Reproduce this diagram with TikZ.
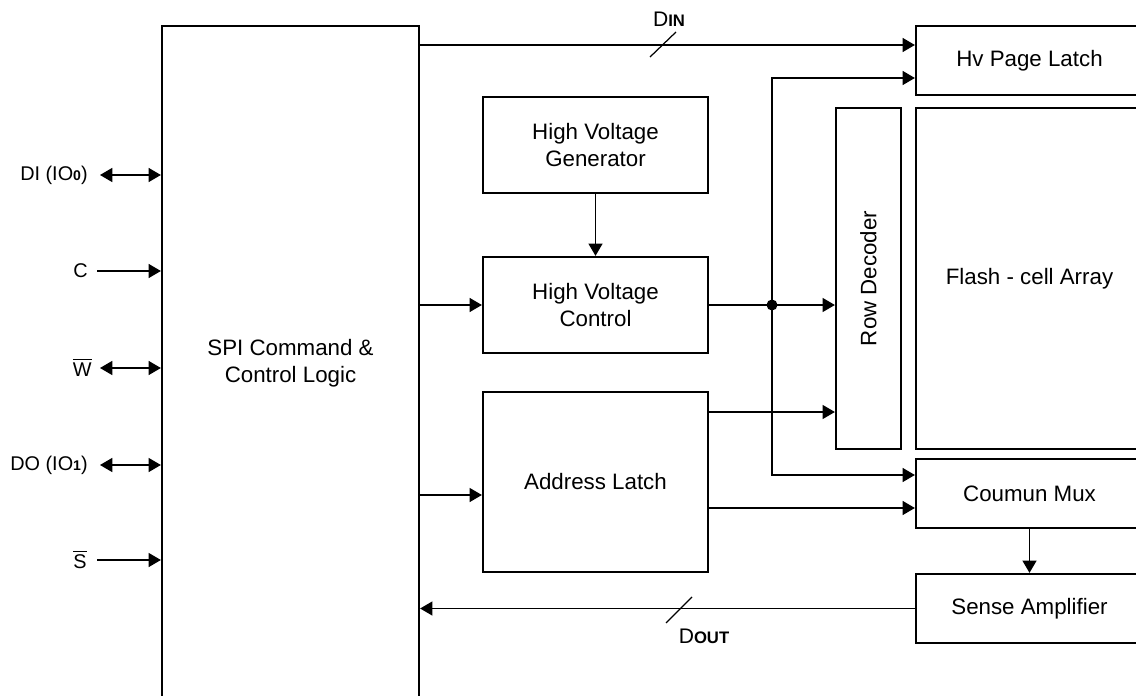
\documentclass[tikz,border=0pt]{standalone}
\usepackage{fontspec}
\setmainfont{Liberation Sans}
\usetikzlibrary{arrows.meta, positioning, calc}
\definecolor{DiagBlack}{HTML}{000000}
\definecolor{DiagWhite}{HTML}{FFFFFF}
\newcommand{\diagfont}{\fontsize{12.7}{15.4}\selectfont}
\newcommand{\smallbold}[1]{{\fontsize{9.5}{9.5}\selectfont\bfseries #1}}
\newcommand{\pinsub}[1]{{\fontsize{8}{8}\selectfont\bfseries #1}}
\newcommand{\negsig}[1]{\vbox{\hrule height 0.5pt\kern 1.5pt\hbox{#1}}}
\tikzset{
    box/.style={
        draw=DiagBlack,
        line width=1.3pt,
        fill=DiagWhite,
        text=DiagBlack,
        font=\diagfont,
        align=center,
        inner sep=2pt
    },
    arrow/.style={
        -{Triangle[length=7pt,width=8pt]},
        line width=0.7pt,
        DiagBlack
    },
    dblarrow/.style={
        {Triangle[length=7pt,width=8pt]}-{Triangle[length=7pt,width=8pt]},
        line width=0.7pt,
        DiagBlack
    },
    signal/.style={
        anchor=east,
        inner sep=0pt,
        text=DiagBlack,
        font=\fontsize{11.3}{11.3}\selectfont
    },
    busmark/.style={
        line width=0.7pt,
        DiagBlack
    },
    buslabel/.style={
        inner sep=0pt,
        text=DiagBlack,
        font=\fontsize{12}{12}\selectfont
    }
}

\begin{document}
\begin{tikzpicture}[x=0.02cm, y=-0.02cm]
        % Frame
        \useasboundingbox (0,0) rectangle (1136,696);
        \clip (0,0) rectangle (1136,696);

        % Control logic
        \node[box, minimum width=5.14cm, minimum height=13.48cm] (spi) at (290.5,363) {SPI Command \&\\Control Logic};

        % Middle column
        \node[box, minimum width=4.5cm, minimum height=1.92cm] (hvgen) at (595.5,145) {High Voltage\\Generator};
        \node[box, minimum width=4.5cm, minimum height=1.92cm] (hvctrl) at (595.5,305) {High Voltage\\Control};
        \node[box, minimum width=4.5cm, minimum height=3.6cm] (addrlatch) at (595.5,482) {Address Latch};

        % Memory side
        \node[box, minimum width=1.3cm, minimum height=6.82cm] (rowdec) at (868.5,278.5) {\rotatebox{90}{Row Decoder}};
        \node[box, minimum width=4.54cm, minimum height=1.38cm] (hvpage) at (1029.5,60.5) {Hv Page Latch};
        \node[box, minimum width=4.54cm, minimum height=6.82cm] (flash) at (1029.5,278.5) {Flash - cell Array};
        \node[box, minimum width=4.54cm, minimum height=1.38cm] (colmux) at (1029.5,493.5) {Coumun Mux};
        \node[box, minimum width=4.54cm, minimum height=1.38cm] (senseamp) at (1029.5,608.5) {Sense Amplifier};

        % Pins
        \foreach \pin/\ypos/\startx/\labx/\tip/\txt in {
            di/175/100/88/dblarrow/{DI (IO\pinsub{0})},
            c/271/97/88/arrow/C,
            w/368/100/92/dblarrow/{\negsig{W}},
            do/465/100/88/dblarrow/{DO (IO\pinsub{1})},
            s/560/97/87/arrow/{\negsig{S}}}
        {
            \node[signal] (\pin label) at (\labx,\ypos) {\txt};
            \coordinate (\pin) at (\startx,\ypos);
            \draw[\tip] (\pin) -- (spi.west |- \pin);
        }

        % Data in
        \draw[arrow] (spi.east |- 0,45) -- (hvpage.west |- 0,45);
        \draw[busmark] (650,57) -- (676,32);
        \node[buslabel] (dinlabel) at (669,19) {D\smallbold{IN}};

        % High voltage path
        \draw[arrow] (hvgen) -- (hvctrl);
        \draw[arrow] (spi.east |- hvctrl) -- (hvctrl);
        \draw[arrow] (hvctrl) -- (rowdec.west |- hvctrl);
        \coordinate (tap) at (772,305);
        \fill[DiagBlack] (tap) circle[radius=0.11cm];
        \draw[arrow] (tap) |- (hvpage.west |- 0,78);
        \draw[arrow] (tap) |- (colmux.west |- 0,475);

        % Address path
        \draw[arrow] (spi.east |- 0,495) -- (addrlatch.west |- 0,495);
        \draw[arrow] (addrlatch.east |- 0,412) -- (rowdec.west |- 0,412);
        \draw[arrow] (addrlatch.east |- 0,508) -- (colmux.west |- 0,508);

        % Data out
        \draw[arrow] (colmux) -- (senseamp);
        \draw[arrow] (senseamp) -- (spi.east |- senseamp);
        \draw[busmark] (666,623) -- (692,597);
        \node[buslabel] (doutlabel) at (704,636) {D\smallbold{OUT}};
    \end{tikzpicture}
\end{document}
